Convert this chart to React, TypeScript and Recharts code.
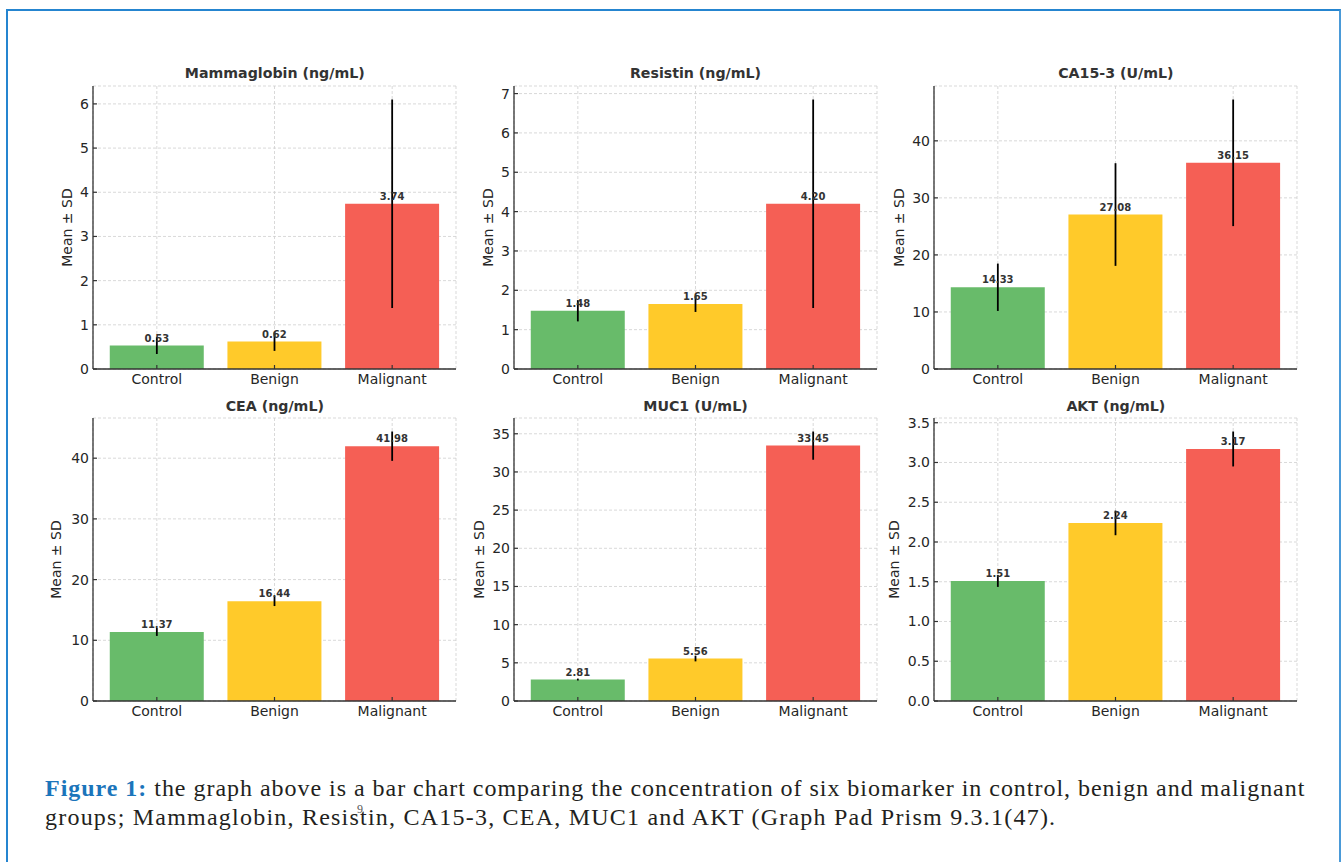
import React from 'react';
import { ComposedChart, Bar, Line, XAxis, YAxis, CartesianGrid, ErrorBar, LabelList, Cell } from 'recharts';

// ---- data ----
const groups = ['Control', 'Benign', 'Malignant'];
const barColors = ['#68BB6A', '#FFCA2A', '#F55F55'];

const titles = ['Mammaglobin (ng/mL)', 'Resistin (ng/mL)', 'CA15-3 (U/mL)', 'CEA (ng/mL)', 'MUC1 (U/mL)', 'AKT (ng/mL)'];

const mammaglobinMean = [0.53, 0.62, 3.74];
const mammaglobinSd = [0.19, 0.21, 2.36];
const resistinMean = [1.48, 1.65, 4.2];
const resistinSd = [0.27, 0.2, 2.65];
const ca153Mean = [14.33, 27.08, 36.15];
const ca153Sd = [4.15, 9.0, 11.1];
const ceaMean = [11.37, 16.44, 41.98];
const ceaSd = [0.65, 0.8, 2.42];
const muc1Mean = [2.81, 5.56, 33.45];
const muc1Sd = [0.12, 0.37, 1.85];
const aktMean = [1.51, 2.24, 3.17];
const aktSd = [0.075, 0.155, 0.22];

const mammaglobinTicks = [0, 1, 2, 3, 4, 5, 6];
const resistinTicks = [0, 1, 2, 3, 4, 5, 6, 7];
const ca153Ticks = [0, 10, 20, 30, 40];
const ceaTicks = [0, 10, 20, 30, 40];
const muc1Ticks = [0, 5, 10, 15, 20, 25, 30, 35];
const aktTicks = [0, 0.5, 1.0, 1.5, 2.0, 2.5, 3.0, 3.5];
const tickDecimals = [0, 0, 0, 0, 0, 1];

const yLabel = 'Mean ± SD';
const captionBold = 'Figure 1:';
const captionLine1 = ' the graph above is a bar chart comparing the concentration of six biomarker in control, benign and malignant';
const captionLine2 = 'groups; Mammaglobin, Resistin, CA15-3, CEA, MUC1 and AKT (Graph Pad Prism 9.3.1(47).';

const means = [mammaglobinMean, resistinMean, ca153Mean, ceaMean, muc1Mean, aktMean];
const sds = [mammaglobinSd, resistinSd, ca153Sd, ceaSd, muc1Sd, aktSd];
const ticksList = [mammaglobinTicks, resistinTicks, ca153Ticks, ceaTicks, muc1Ticks, aktTicks];

// ---- layout ----
const colLefts = [93.3, 514, 934.3];
const rowTops = [86, 418.3];
const plotW = 363;
const plotH = 283;
const yLabelOffsets = [26.3, 26, 35.3, 36.6, 35, 40];
const FONT = '"DejaVu Sans", sans-serif';
const TXT = '#262626';
const AXIS = '#333333';
const TICK_FS = 14;
const TITLE_FS = 14.2;

function Panel({ idx }: { idx: number }) {
  const col = idx % 3;
  const row = Math.floor(idx / 3);
  const plotLeft = colLefts[col];
  const plotTop = rowTops[row];
  const data = groups.map((g, i) => ({ group: g, mean: means[idx][i], sd: sds[idx][i] }));
  const yMax = Math.max(...data.map((d) => d.mean + d.sd)) * 1.05;
  const axisW = 2 * yLabelOffsets[idx];
  const leftSpace = 80;
  const chartW = leftSpace + plotW + 10;
  const chartH = 10 + plotH + 30;
  const dec = tickDecimals[idx];
  return (
    <>
      <div
        style={{
          position: 'absolute',
          left: plotLeft,
          top: plotTop - 7.5 - 0.846 * TITLE_FS,
          width: plotW,
          textAlign: 'center',
          fontFamily: FONT,
          fontWeight: 'bold',
          fontSize: TITLE_FS,
          lineHeight: `${TITLE_FS}px`,
          color: '#333',
          whiteSpace: 'nowrap',
        }}
      >
        {titles[idx]}
      </div>
      <div style={{ position: 'absolute', left: plotLeft - leftSpace, top: plotTop - 10 }}>
        <ComposedChart
          width={chartW}
          height={chartH}
          data={data}
          margin={{ top: 10, right: 10, bottom: 0, left: leftSpace - axisW }}
          barCategoryGap="10%"
        >
          <CartesianGrid stroke="#cfcfcf" strokeDasharray="3 2" strokeWidth={0.8} />
          <XAxis
            dataKey="group"
            type="category"
            padding={{ left: 5, right: 5 }}
            height={30}
            interval={0}
            tickSize={-4}
            tickMargin={9}
            axisLine={{ stroke: AXIS, strokeWidth: 1.3 }}
            tickLine={{ stroke: AXIS, strokeWidth: 1.2 }}
            tick={{ fill: TXT, fontSize: TICK_FS, fontFamily: FONT }}
          />
          <YAxis
            type="number"
            width={axisW}
            domain={[0, yMax]}
            allowDataOverflow
            ticks={ticksList[idx]}
            interval={0}
            tickSize={-4}
            tickMargin={8}
            tickFormatter={(v: number) => v.toFixed(dec)}
            axisLine={{ stroke: AXIS, strokeWidth: 1.3 }}
            tickLine={{ stroke: AXIS, strokeWidth: 1.2 }}
            tick={{ fill: TXT, fontSize: TICK_FS, fontFamily: FONT }}
            label={{ value: yLabel, position: 'center', angle: -90, fill: TXT, fontSize: TICK_FS, fontFamily: FONT }}
          />
          <Bar dataKey="mean" isAnimationActive={false}>
            {data.map((d, i) => (
              <Cell key={d.group} fill={barColors[i]} />
            ))}
            <LabelList
              dataKey="mean"
              position="top"
              offset={4}
              formatter={(v: any) => Number(v).toFixed(2)}
              fill="#333"
              fontSize={10}
              fontWeight="bold"
              fontFamily={FONT}
            />
          </Bar>
          <Line
            dataKey="mean"
            stroke="none"
            dot={false}
            activeDot={false}
            isAnimationActive={false}
            legendType="none"
          >
            <ErrorBar dataKey="sd" width={0} stroke="#000" strokeWidth={1.8} direction="y" />
          </Line>
        </ComposedChart>
      </div>
    </>
  );
}

export default function App() {
  return (
    <div
      style={{
        position: 'absolute',
        left: 0,
        top: 0,
        width: 1341,
        height: 862,
        overflow: 'hidden',
        background: '#fff',
        fontFamily: FONT,
      }}
    >
      <div
        style={{
          position: 'absolute',
          left: 6,
          top: 9,
          width: 1335,
          height: 900,
          boxSizing: 'border-box',
          borderLeft: '2px solid #2585d0',
          borderTop: '2px solid #2585d0',
          borderRight: '2px solid #4a9ad8',
        }}
      />
      {[0, 1, 2, 3, 4, 5].map((i) => (
        <Panel key={i} idx={i} />
      ))}
      <div
        style={{
          position: 'absolute',
          left: 45,
          top: 774.4,
          fontFamily: '"Liberation Serif", "Times New Roman", serif',
          fontSize: 24,
          letterSpacing: '0.97px',
          lineHeight: '29px',
          color: '#231f20',
          whiteSpace: 'nowrap',
        }}
      >
        <span style={{ color: '#1b75bb', fontWeight: 'bold' }}>{captionBold}</span>
        {captionLine1}
        <br />
        <span style={{ letterSpacing: '1.22px' }}>{captionLine2}</span>
      </div>
      <div
        style={{
          position: 'absolute',
          left: 357,
          top: 803,
          fontFamily: '"Liberation Serif", serif',
          fontSize: 12,
          lineHeight: '12px',
          color: '#555',
        }}
      >
        9
      </div>
    </div>
  );
}
